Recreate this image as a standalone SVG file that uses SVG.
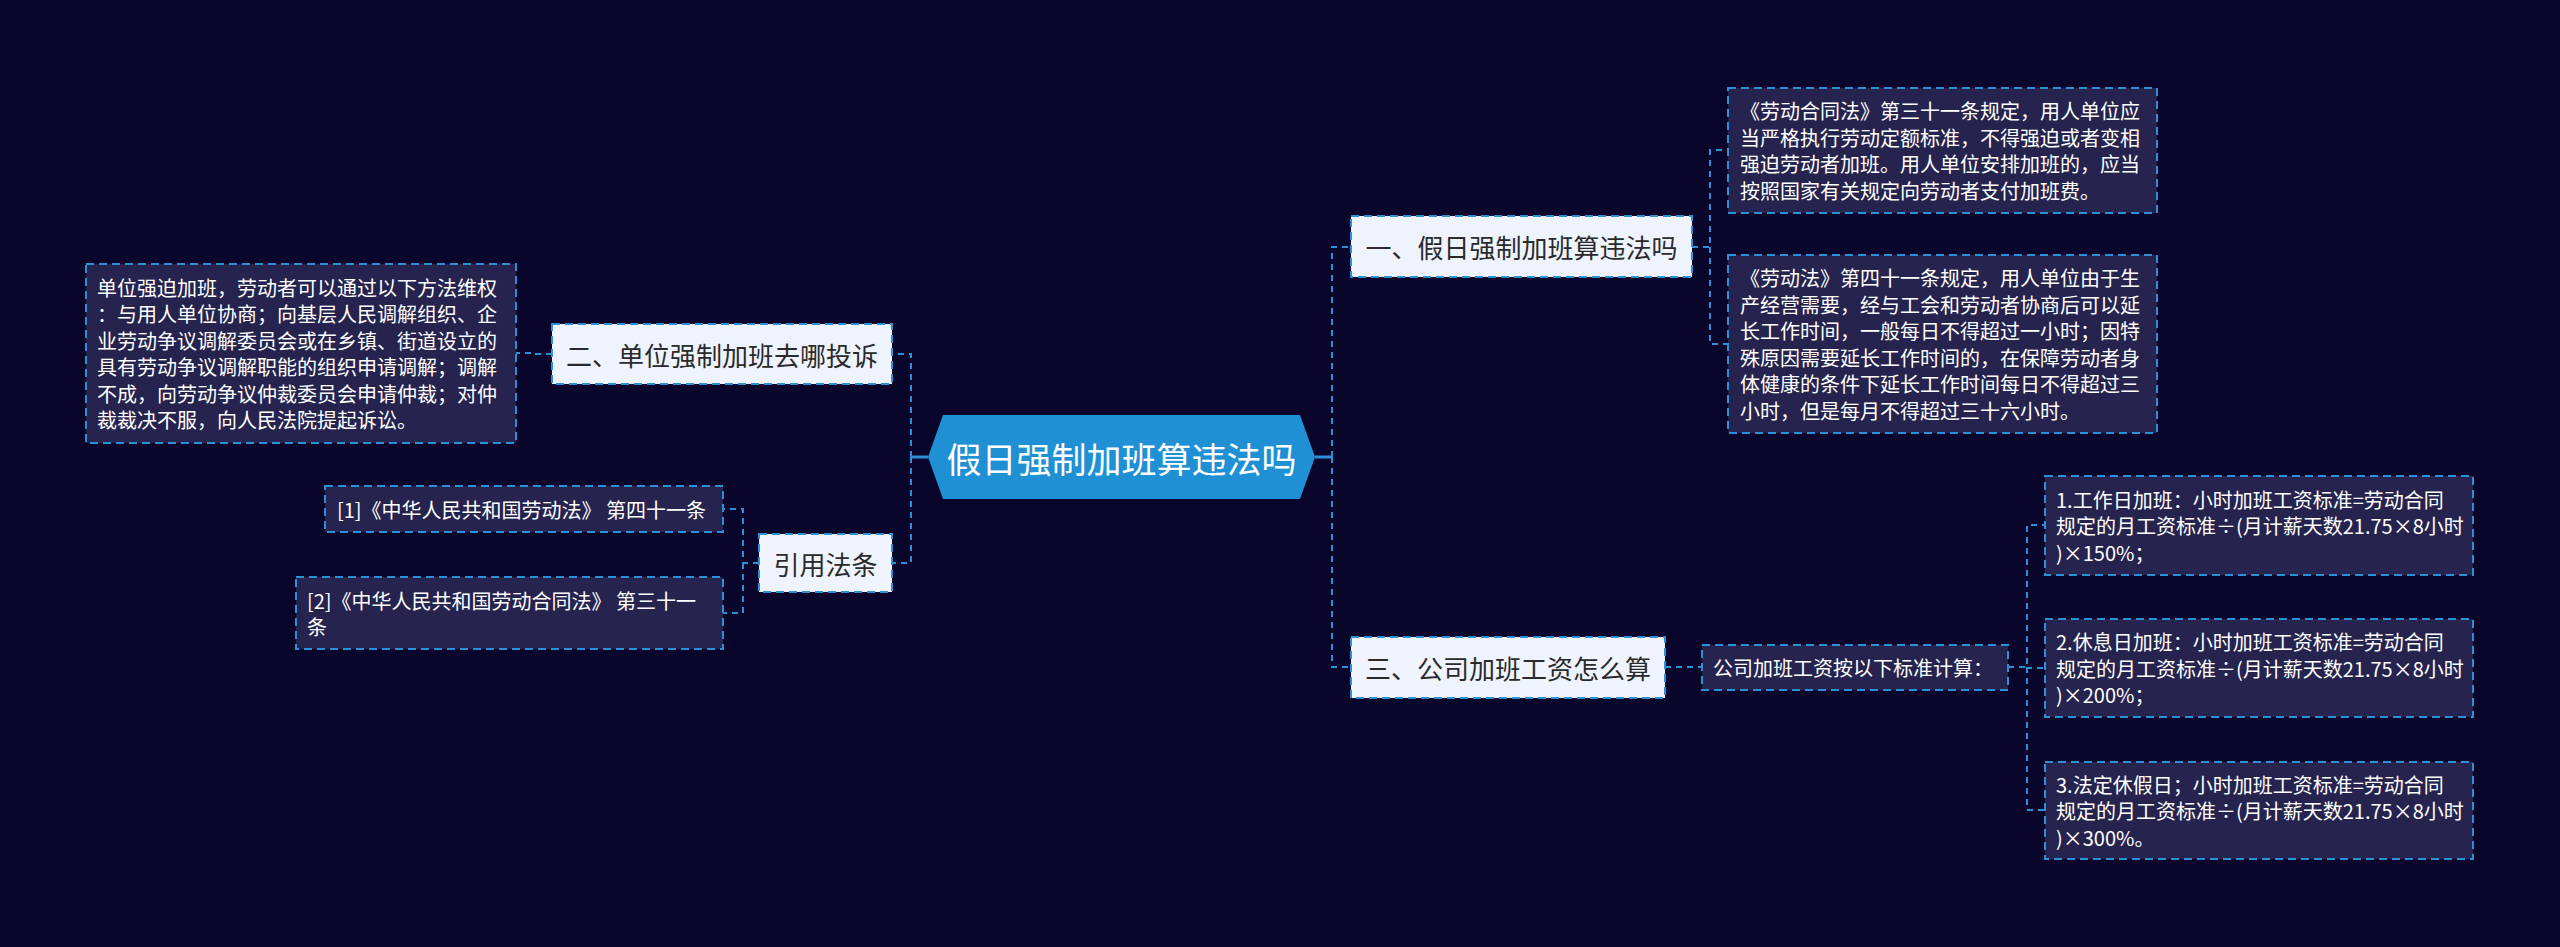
<svg xmlns="http://www.w3.org/2000/svg" width="2560" height="947" viewBox="0 0 2560 947">
<style>
text{font-family:"Noto Sans CJK SC","Microsoft YaHei",sans-serif;dominant-baseline:central}
.bg{fill:#0a062b}
.box{fill:#26244f;stroke:#2d8fd5;stroke-width:2;stroke-dasharray:8 5}
.lt{fill:#eef3fd;stroke:#2d8fd5;stroke-width:2;stroke-dasharray:8 5}
.wt{fill:#ffffff;font-size:20px}
.dk{fill:#2a2a2a;font-size:26px;text-anchor:middle}
.ln{fill:none;stroke:#2d8fd5;stroke-width:2;stroke-dasharray:6 5}
.sl{fill:none;stroke:#2d8fd5;stroke-width:3}
</style>
<rect class="bg" x="0" y="0" width="2560" height="947"/>
<g id="connectors">
<path class="sl" d="M928 457 H911 M1315 457 H1332"/>
<path class="ln" d="M911 457 V354 H892 M911 457 V563 H892"/>
<path class="ln" d="M1332 457 V247 H1351 M1332 457 V667 H1351"/>
<path class="ln" d="M1692 247 H1710 V150 H1728 M1710 247 V344 H1728"/>
<path class="ln" d="M552 354 H534 V353 H516"/>
<path class="ln" d="M759 563 H743 V509 H723 M743 563 V613 H723"/>
<path class="ln" d="M1665 667 H1702"/>
<path class="ln" d="M2008 667 H2027 V525 H2045 M2027 667 V668 H2045 M2027 667 V810 H2045"/>
</g>
<g id="root">
<polygon points="928,457 943,415 1300,415 1315,457 1300,499 943,499" fill="#1f90d4"/>
<text x="1121.5" y="457" fill="#ffffff" font-size="35" text-anchor="middle">假日强制加班算违法吗</text>
</g>
<g id="n1">
<rect class="lt" x="1351" y="216" width="341" height="61"/>
<text class="dk" x="1521.5" y="246.5">一、假日强制加班算违法吗</text>
</g>
<g id="n1a">
<rect class="box" x="1728" y="88" width="429" height="125"/>
<text class="wt" x="1740" y="110.5">《劳动合同法》第三十一条规定，用人单位应</text>
<text class="wt" x="1740" y="137">当严格执行劳动定额标准，不得强迫或者变相</text>
<text class="wt" x="1740" y="163.5">强迫劳动者加班。用人单位安排加班的，应当</text>
<text class="wt" x="1740" y="190">按照国家有关规定向劳动者支付加班费。</text>
</g>
<g id="n1b">
<rect class="box" x="1728" y="255" width="429" height="178"/>
<text class="wt" x="1740" y="277.5">《劳动法》第四十一条规定，用人单位由于生</text>
<text class="wt" x="1740" y="304">产经营需要，经与工会和劳动者协商后可以延</text>
<text class="wt" x="1740" y="330.5">长工作时间，一般每日不得超过一小时；因特</text>
<text class="wt" x="1740" y="357">殊原因需要延长工作时间的，在保障劳动者身</text>
<text class="wt" x="1740" y="383.5">体健康的条件下延长工作时间每日不得超过三</text>
<text class="wt" x="1740" y="410">小时，但是每月不得超过三十六小时。</text>
</g>
<g id="n2">
<rect class="lt" x="552" y="324" width="340" height="60"/>
<text class="dk" x="722" y="354">二、单位强制加班去哪投诉</text>
</g>
<g id="n2a">
<rect class="box" x="86" y="264" width="430" height="179"/>
<text class="wt" x="97" y="287">单位强迫加班，劳动者可以通过以下方法维权</text>
<text class="wt" x="97" y="313.5">：与用人单位协商；向基层人民调解组织、企</text>
<text class="wt" x="97" y="340">业劳动争议调解委员会或在乡镇、街道设立的</text>
<text class="wt" x="97" y="366.5">具有劳动争议调解职能的组织申请调解；调解</text>
<text class="wt" x="97" y="393">不成，向劳动争议仲裁委员会申请仲裁；对仲</text>
<text class="wt" x="97" y="419.5">裁裁决不服，向人民法院提起诉讼。</text>
</g>
<g id="n3">
<rect class="lt" x="1351" y="637" width="314" height="61"/>
<text class="dk" x="1508" y="667.5">三、公司加班工资怎么算</text>
</g>
<g id="n3a">
<rect class="box" x="1702" y="645" width="306" height="45"/>
<text class="wt" x="1713" y="667.5">公司加班工资按以下标准计算：</text>
</g>
<g id="n3b">
<rect class="box" x="2045" y="476" width="428" height="99"/>
<text class="wt" x="2056" y="499">1.工作日加班：小时加班工资标准=劳动合同</text>
<text class="wt" x="2056" y="525.5">规定的月工资标准÷(月计薪天数21.75×8小时</text>
<text class="wt" x="2056" y="552">)×150%；</text>
</g>
<g id="n3c">
<rect class="box" x="2045" y="619" width="428" height="98"/>
<text class="wt" x="2056" y="641.5">2.休息日加班：小时加班工资标准=劳动合同</text>
<text class="wt" x="2056" y="668">规定的月工资标准÷(月计薪天数21.75×8小时</text>
<text class="wt" x="2056" y="694.5">)×200%；</text>
</g>
<g id="n3d">
<rect class="box" x="2045" y="762" width="428" height="97"/>
<text class="wt" x="2056" y="784">3.法定休假日；小时加班工资标准=劳动合同</text>
<text class="wt" x="2056" y="810.5">规定的月工资标准÷(月计薪天数21.75×8小时</text>
<text class="wt" x="2056" y="837">)×300%。</text>
</g>
<g id="n4">
<rect class="lt" x="759" y="534" width="133" height="58"/>
<text class="dk" x="825.5" y="563">引用法条</text>
</g>
<g id="n4a">
<rect class="box" x="325" y="486" width="398" height="46"/>
<text class="wt" x="337" y="509">[1]《中华人民共和国劳动法》 第四十一条</text>
</g>
<g id="n4b">
<rect class="box" x="296" y="577" width="427" height="72"/>
<text class="wt" x="307" y="600">[2]《中华人民共和国劳动合同法》 第三十一</text>
<text class="wt" x="307" y="626.5">条</text>
</g>
</svg>
